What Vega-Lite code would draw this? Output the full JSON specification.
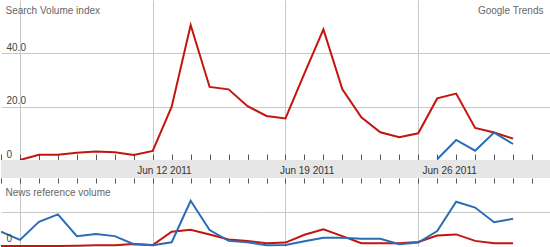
{
  "$schema": "https://vega.github.io/schema/vega-lite/v6.json",
  "padding": 0,
  "background": "white",
  "spacing": 0,
  "bounds": "flush",
  "config": {
    "view": {"stroke": null},
    "font": "Liberation Sans",
    "axis": {"labelFont": "Liberation Sans", "titleFont": "Liberation Sans", "labelFontSize": 10, "titleFontSize": 10, "labelColor": "#444", "titleColor": "#666", "titleFontWeight": "normal", "gridColor": "#c8c8c8", "tickColor": "#555"}
  },
  "data": {
    "format": {"parse": {"date": "date:'%Y-%m-%d'"}},
    "values": [
      {"date": "2011-06-04", "term": "A", "search": null, "news": 0},
      {"date": "2011-06-05", "term": "A", "search": 0, "news": 0},
      {"date": "2011-06-06", "term": "A", "search": 2, "news": 0},
      {"date": "2011-06-07", "term": "A", "search": 2, "news": 0},
      {"date": "2011-06-08", "term": "A", "search": 2.7, "news": 0.01},
      {"date": "2011-06-09", "term": "A", "search": 3.2, "news": 0.02},
      {"date": "2011-06-10", "term": "A", "search": 2.9, "news": 0.02},
      {"date": "2011-06-11", "term": "A", "search": 1.9, "news": 0.06},
      {"date": "2011-06-12", "term": "A", "search": 3.4, "news": 0.03},
      {"date": "2011-06-13", "term": "A", "search": 20, "news": 0.42},
      {"date": "2011-06-14", "term": "A", "search": 50.6, "news": 0.48},
      {"date": "2011-06-15", "term": "A", "search": 27.4, "news": 0.34},
      {"date": "2011-06-16", "term": "A", "search": 26.5, "news": 0.19},
      {"date": "2011-06-17", "term": "A", "search": 20.2, "news": 0.15},
      {"date": "2011-06-18", "term": "A", "search": 16.5, "news": 0.08},
      {"date": "2011-06-19", "term": "A", "search": 15.6, "news": 0.10},
      {"date": "2011-06-20", "term": "A", "search": 32.5, "news": 0.33},
      {"date": "2011-06-21", "term": "A", "search": 49, "news": 0.49},
      {"date": "2011-06-22", "term": "A", "search": 26.5, "news": 0.29},
      {"date": "2011-06-23", "term": "A", "search": 16, "news": 0.08},
      {"date": "2011-06-24", "term": "A", "search": 10.4, "news": 0.08},
      {"date": "2011-06-25", "term": "A", "search": 8.5, "news": 0.08},
      {"date": "2011-06-26", "term": "A", "search": 10, "news": 0.12},
      {"date": "2011-06-27", "term": "A", "search": 23.1, "news": 0.31},
      {"date": "2011-06-28", "term": "A", "search": 24.9, "news": 0.34},
      {"date": "2011-06-29", "term": "A", "search": 12, "news": 0.15},
      {"date": "2011-06-30", "term": "A", "search": 10.3, "news": 0.08},
      {"date": "2011-07-01", "term": "A", "search": 8, "news": 0.08},
      {"date": "2011-06-04", "term": "B", "search": null, "news": 0.42},
      {"date": "2011-06-05", "term": "B", "search": null, "news": 0.18},
      {"date": "2011-06-06", "term": "B", "search": null, "news": 0.71},
      {"date": "2011-06-07", "term": "B", "search": null, "news": 0.93},
      {"date": "2011-06-08", "term": "B", "search": null, "news": 0.29},
      {"date": "2011-06-09", "term": "B", "search": null, "news": 0.35},
      {"date": "2011-06-10", "term": "B", "search": null, "news": 0.29},
      {"date": "2011-06-11", "term": "B", "search": null, "news": 0.05},
      {"date": "2011-06-12", "term": "B", "search": null, "news": 0.02},
      {"date": "2011-06-13", "term": "B", "search": null, "news": 0.11},
      {"date": "2011-06-14", "term": "B", "search": null, "news": 1.33},
      {"date": "2011-06-15", "term": "B", "search": null, "news": 0.47},
      {"date": "2011-06-16", "term": "B", "search": null, "news": 0.15},
      {"date": "2011-06-17", "term": "B", "search": null, "news": 0.11},
      {"date": "2011-06-18", "term": "B", "search": null, "news": 0.02},
      {"date": "2011-06-19", "term": "B", "search": null, "news": 0.03},
      {"date": "2011-06-20", "term": "B", "search": null, "news": 0.14},
      {"date": "2011-06-21", "term": "B", "search": null, "news": 0.24},
      {"date": "2011-06-22", "term": "B", "search": null, "news": 0.24},
      {"date": "2011-06-23", "term": "B", "search": null, "news": 0.21},
      {"date": "2011-06-24", "term": "B", "search": null, "news": 0.21},
      {"date": "2011-06-25", "term": "B", "search": null, "news": 0.05},
      {"date": "2011-06-26", "term": "B", "search": null, "news": 0.10},
      {"date": "2011-06-27", "term": "B", "search": 0.3, "news": 0.44},
      {"date": "2011-06-28", "term": "B", "search": 7.5, "news": 1.30},
      {"date": "2011-06-29", "term": "B", "search": 3.5, "news": 1.13},
      {"date": "2011-06-30", "term": "B", "search": 10.3, "news": 0.70},
      {"date": "2011-07-01", "term": "B", "search": 6, "news": 0.80}
    ]
  },
  "vconcat": [
    {
      "width": 550,
      "height": 160,
      "layer": [
        {
          "transform": [{"filter": "datum.term === 'A'"}],
          "mark": {"type": "line", "color": "#c4140e", "strokeWidth": 2},
          "encoding": {
            "x": {"field": "date", "type": "temporal",
              "scale": {"domain": [{"year": 2011, "month": 6, "date": 4}, {"year": 2011, "month": 7, "date": 3}], "nice": false},
              "axis": {"orient": "top", "grid": true, "tickCount": {"interval": "week", "step": 1}, "labels": false, "ticks": false, "domain": false, "title": null}},
            "y": {"field": "search", "type": "quantitative",
              "scale": {"domain": [0, 60], "nice": false},
              "axis": {"orient": "left", "values": [0, 20, 40], "grid": true, "ticks": false, "domain": false,
                "labelAlign": "left", "labelPadding": -5, "labelBaseline": "bottom", "labelOffset": -1,
                "labelOverlap": false, "labelFlush": false, "labelBound": false,
                "labelExpr": "datum.value === 0 ? '0' : format(datum.value, '.1f')",
                "title": "Search Volume index", "titleAngle": 0, "titleAlign": "left", "titleBaseline": "middle", "titleX": 4, "titleY": 10}}
          }
        },
        {
          "transform": [{"filter": "datum.term === 'B'"}],
          "mark": {"type": "line", "color": "#2a6db5", "strokeWidth": 2},
          "encoding": {
            "x": {"field": "date", "type": "temporal",
              "axis": {"orient": "bottom", "grid": false, "tickCount": {"interval": "day", "step": 1}, "labels": false, "ticks": true, "tickSize": -6, "domain": false, "title": null}},
            "y": {"field": "search", "type": "quantitative",
              "axis": {"orient": "right", "grid": false, "ticks": false, "domain": false, "labels": false,
                "title": "Google Trends", "titleAngle": 0, "titleAlign": "right", "titleBaseline": "middle", "titleX": -8, "titleY": 10}}
          }
        }
      ],
      "resolve": {"axis": {"x": "independent", "y": "independent"}}
    },
    {
      "width": 550,
      "height": 18,
      "view": {"fill": "#e6e6e6", "stroke": null},
      "mark": {"type": "point", "opacity": 0, "size": 0},
      "encoding": {
        "x": {"field": "date", "type": "temporal",
          "axis": {"orient": "bottom", "grid": false, "ticks": false, "domain": false, "tickCount": {"interval": "week", "step": 1},
            "labelPadding": -8, "labelBaseline": "middle", "labelOverlap": false, "labelFlush": false, "labelColor": "#333",
            "labelExpr": "day(datum.value) === 0 && datum.value > datetime(2011, 5, 6) && datum.value < datetime(2011, 6, 1) ? timeFormat(datum.value, '%b %d %Y') : ''",
            "title": null}}
      }
    },
    {
      "width": 550,
      "height": 69,
      "layer": [
        {
          "transform": [{"filter": "datum.term === 'A'"}],
          "mark": {"type": "line", "color": "#c4140e", "strokeWidth": 2, "clip": true},
          "encoding": {
            "x": {"field": "date", "type": "temporal",
              "scale": {"domain": [{"year": 2011, "month": 6, "date": 4}, {"year": 2011, "month": 7, "date": 3}], "nice": false},
              "axis": {"orient": "bottom", "grid": true, "tickCount": {"interval": "week", "step": 1}, "labels": false, "ticks": false, "domain": false, "title": null}},
            "y": {"field": "news", "type": "quantitative",
              "scale": {"domain": [-0.03, 2.0], "nice": false, "zero": false},
              "axis": {"orient": "left", "values": [1], "grid": true, "ticks": false, "domain": false, "labels": false,
                "title": "News reference volume", "titleAngle": 0, "titleAlign": "left", "titleBaseline": "middle", "titleX": 4, "titleY": 14}}
          }
        },
        {
          "transform": [{"filter": "datum.term === 'B'"}],
          "mark": {"type": "line", "color": "#2a6db5", "strokeWidth": 2, "clip": true},
          "encoding": {
            "x": {"field": "date", "type": "temporal",
              "axis": {"orient": "top", "grid": false, "tickCount": {"interval": "day", "step": 1}, "labels": false, "ticks": true, "tickSize": -5, "domain": false, "title": null}},
            "y": {"field": "news", "type": "quantitative",
              "axis": {"orient": "left", "values": [0], "grid": false, "ticks": false, "domain": false, "zindex": 1,
                "labelAlign": "left", "labelPadding": -5, "labelBaseline": "bottom", "labelOffset": -2,
                "labelOverlap": false, "labelFlush": false, "labelBound": false, "title": null}}
          }
        }
      ],
      "resolve": {"axis": {"x": "independent", "y": "independent"}}
    }
  ]
}
